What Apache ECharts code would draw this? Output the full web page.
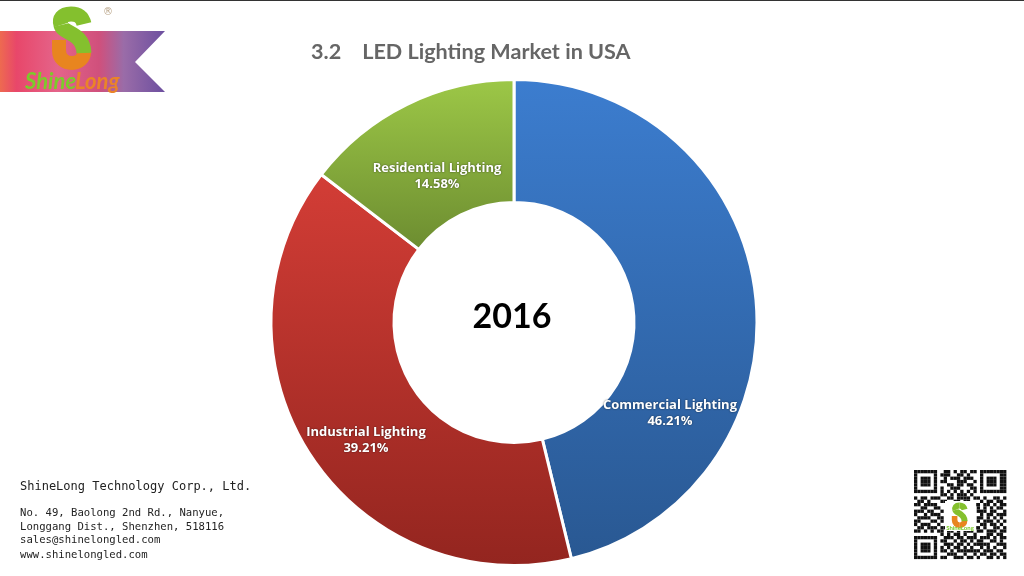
<!DOCTYPE html>
<html>
<head>
<meta charset="utf-8">
<title>LED Lighting Market in USA</title>
<script src="https://cdn.jsdelivr.net/npm/echarts@6/dist/echarts.min.js"></script>
<style>
html, body { margin: 0; padding: 0; background: #fff; }
#chart { width: 1024px; height: 576px; }
</style>
</head>
<body>
<div id="chart"></div>
<script>
var TITLE = "3.2    LED Lighting Market in USA";
var YEAR = "2016";
var CATEGORIES = ["Commercial Lighting", "Industrial Lighting", "Residential Lighting"];
var VALUES = [46.21, 39.21, 14.58];
var COLORS_TOP = ["#3c7dcf", "#d33d36", "#9dc847"];
var COLORS_BOTTOM = ["#295892", "#93251f", "#6c8c30"];
var LABEL_X = [670, 366, 437];
var LABEL_Y = [413, 440, 176];
var COMPANY = "ShineLong Technology Corp., Ltd.";
var ADDRESS = [
    "No. 49, Baolong 2nd Rd., Nanyue,",
    "Longgang Dist., Shenzhen, 518116",
    "sales@shinelongled.com",
    "www.shinelongled.com"
];
var ADDRESS_Y = [512, 526, 539, 554];

// rough reading of the QR code, one string per row
var QR_ROWS = [
    "1111111001101011011011111111",
    "1000001011100110100010000011",
    "1011101001011101110010111011",
    "1011101011000111001010111011",
    "1011101000110110110010111011",
    "1000001010011100011010000011",
    "1111111010101010101011111111",
    "0000000011010111010000000000",
    "1011011100110111101101001101",
    "0110100011001101100010110110",
    "1101111000000000001101101011",
    "0011001100000000000101010110",
    "1110110010000000000111011001",
    "1001011100000000000010110111",
    "0111100110000000000110101010",
    "1100011010000000000101110101",
    "1011100100000000000011011010",
    "0110111011001010101101001101",
    "1101010110110101110110111011",
    "0000000010101101001000110110",
    "1111111001110110111011101011",
    "1000001011001011010110011010",
    "1011101001110110101111100111",
    "1011101010101101010010101001",
    "1011101011010111111101110110",
    "1000001000111001001011011011",
    "1111111011001110110100110101"
];

function qr_elements()
{
    var elements = [];
    var size = 3.3;
    QR_ROWS.forEach(function(row, r) {
        for (var c = 0; c < row.length; c++) {
            if (row[c] == "1") {
                elements.push({
                    type: "rect",
                    shape: {x: 914 + c * size, y: 470 + r * size, width: size, height: size},
                    style: {fill: "#111"}
                });
            }
        }
    });
    return elements;
}

// one cubic segment of the logo's S
function s_curve(c, color, width)
{
    return {
        type: "bezierCurve",
        shape: {x1: c[0], y1: c[1], cpx1: c[2], cpy1: c[3], cpx2: c[4], cpy2: c[5], x2: c[6], y2: c[7]},
        style: {fill: null, stroke: color, lineWidth: width}
    };
}

function logo_elements(x, y, scale)
{
    return {
        type: "group",
        x: x,
        y: y,
        scaleX: scale,
        scaleY: scale,
        children: [
            s_curve([59, 40, 59, 44, 59, 47, 59, 50], "#e8851f", 14),
            s_curve([59, 50, 59, 59, 65, 63, 72, 63], "#e8851f", 14),
            s_curve([72, 63, 79, 63, 84, 58, 84, 52], "#e8851f", 14),
            s_curve([84, 24, 82, 16, 77, 14, 71, 14], "#84c02e", 15),
            s_curve([71, 14, 62, 14, 59, 19, 61, 25], "#84c02e", 15),
            s_curve([61, 25, 63, 34, 83, 32, 84, 53], "#84c02e", 15)
        ]
    };
}

var elements = [
    {
        type: "rect",
        shape: {x: 0, y: 0, width: 1024, height: 1},
        style: {fill: "#333"}
    },
    {
        type: "polygon",
        shape: {points: [[0, 31], [165, 31], [135, 62], [165, 92], [0, 92]]},
        style: {
            fill: new echarts.graphic.LinearGradient(0, 0, 1, 0, [
                {offset: 0, color: "#ee6a50"},
                {offset: 0.1, color: "#e8476a"},
                {offset: 0.35, color: "#e4648a"},
                {offset: 0.6, color: "#d0507c"},
                {offset: 0.75, color: "#9a6ca8"},
                {offset: 1, color: "#6c4f9f"}
            ])
        }
    },
    logo_elements(0, 0, 1),
    {type: "text", style: {x: 25, y: 71, text: "Shine", fill: "#7ccb2a", font: "bold italic 22px Lato"}},
    {type: "text", style: {x: 75, y: 71, text: "Long", fill: "#ea8428", font: "bold italic 22px Lato"}},
    {
        type: "text",
        style: {x: 103, y: 7, text: "®", fill: "#b9a488", font: "10px 'DejaVu Sans'"}
    },
    {
        type: "text",
        style: {x: 20, y: 481, text: COMPANY, fill: "#222", font: "12px 'DejaVu Sans Mono'"}
    }
];

ADDRESS.forEach(function(line, i) {
    elements.push({
        type: "text",
        style: {
            x: 20,
            y: ADDRESS_Y[i] - 4,
            text: line,
            fill: "#222",
            font: "10.6px 'DejaVu Sans Mono'"
        }
    });
});

elements = elements.concat(qr_elements());
elements.push({
    type: "rect",
    shape: {x: 945, y: 501, width: 31, height: 30},
    style: {fill: "#fff"}
});
elements.push(logo_elements(931, 500, 0.4));
elements.push({
    type: "text",
    style: {x: 960, y: 525, text: "ShineLong", align: "center", fill: "#7ccb2a", font: "bold 6px Lato"}
});

var chart_data = CATEGORIES.map(function(name, i) {
    return {
        name: name,
        value: VALUES[i],
        itemStyle: {
            color: new echarts.graphic.LinearGradient(0, 0, 0, 1, [
                {offset: 0, color: COLORS_TOP[i]},
                {offset: 1, color: COLORS_BOTTOM[i]}
            ])
        }
    };
});

var mychart = echarts.init(document.getElementById("chart"), null, {renderer: "canvas"});
var option = {
    animation: false,
    backgroundColor: "#fff",
    title: [
        {
            text: TITLE,
            left: 306,
            top: 36,
            textStyle: {
                fontFamily: "Lato",
                fontWeight: "bold",
                fontSize: 21.6,
                color: "#666"
            }
        },
        {
            text: YEAR,
            left: 507,
            top: 295,
            textAlign: "center",
            textStyle: {
                fontFamily: "Lato",
                fontWeight: "bold",
                fontSize: 34,
                color: "#000"
            }
        }
    ],
    graphic: {elements: elements},
    series: [
        {
            type: "pie",
            center: [514, 322.5],
            radius: [120, 243],
            startAngle: 90,
            clockwise: true,
            data: chart_data,
            itemStyle: {
                borderColor: "#fff",
                borderWidth: 3
            },
            label: {
                show: true,
                position: "inside",
                formatter: function(params) {
                    return params.name + "\n" + params.value.toFixed(2) + "%";
                },
                color: "#fff",
                fontFamily: "Open Sans",
                fontWeight: "bold",
                fontSize: 13,
                lineHeight: 16,
                align: "center",
                textShadowColor: "rgba(0, 0, 0, 0.6)",
                textShadowBlur: 2
            },
            labelLine: {show: false},
            labelLayout: function(params) {
                return {x: LABEL_X[params.dataIndex], y: LABEL_Y[params.dataIndex], align: "center", verticalAlign: "middle"};
            },
            emphasis: {disabled: true}
        }
    ]
};
mychart.setOption(option);
</script>
</body>
</html>
